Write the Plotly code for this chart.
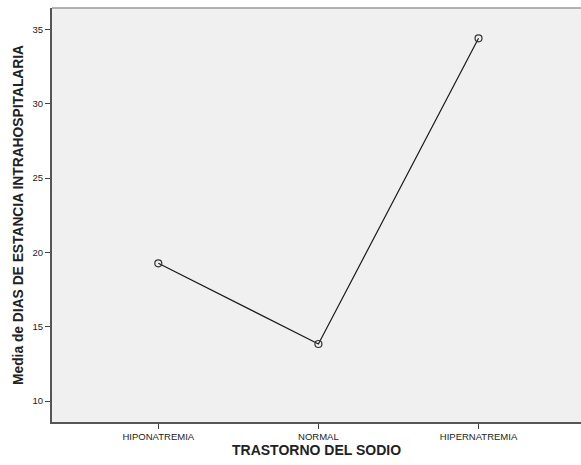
import plotly.graph_objects as go

categories = ["HIPONATREMIA", "NORMAL", "HIPERNATREMIA"]
mean_days = [19.27, 13.84, 34.41]
y_ticks = [10, 15, 20, 25, 30, 35]

fig = go.Figure()
fig.add_trace(go.Scatter(
    x=list(range(len(categories))), y=mean_days, mode="lines+markers",
    line=dict(color="#1a1a1a", width=1.2),
    marker=dict(symbol="circle-open", size=7, color="#333333", line=dict(width=1.2)),
    showlegend=False, hoverinfo="skip"))

fig.update_layout(
    width=581, height=465,
    margin=dict(l=52, r=0, t=8, b=43),
    paper_bgcolor="white", plot_bgcolor="#f0f0f0",
    font=dict(family="Liberation Sans, Arial, sans-serif", color="#222222"),
    xaxis=dict(range=[-0.664, 2.64], tickmode="array",
               tickvals=list(range(len(categories))), ticktext=categories,
               showgrid=False, zeroline=False, showline=True, linecolor="#555555", linewidth=2,
               ticks="outside", ticklen=5, tickcolor="#444444", tickwidth=1,
               tickfont=dict(size=9.5),
               title=dict(text="<b>TRASTORNO DEL SODIO</b>", font=dict(size=14), standoff=2)),
    yaxis=dict(range=[8.59, 36.45], tickmode="array", tickvals=y_ticks,
               showgrid=False, zeroline=False, showline=True, linecolor="#555555", linewidth=2,
               ticks="outside", ticklen=5, tickcolor="#444444", tickwidth=1,
               tickfont=dict(size=9.5),
               title=dict(text="<b>Media de DIAS DE ESTANCIA INTRAHOSPITALARIA</b>", font=dict(size=13.8), standoff=6)),
)
fig.add_shape(type="line", xref="paper", yref="paper", x0=0, x1=1, y0=1, y1=1,
              line=dict(color="#9a9a9a", width=1.5))
fig.write_html("out.html", config={"displayModeBar": False})

with open("out.html", "r", encoding="utf-8") as f:
    html = f.read()
html = html.replace("<body>", '<body style="margin:0;padding:0;overflow:hidden">', 1)
with open("out.html", "w", encoding="utf-8") as f:
    f.write(html)
